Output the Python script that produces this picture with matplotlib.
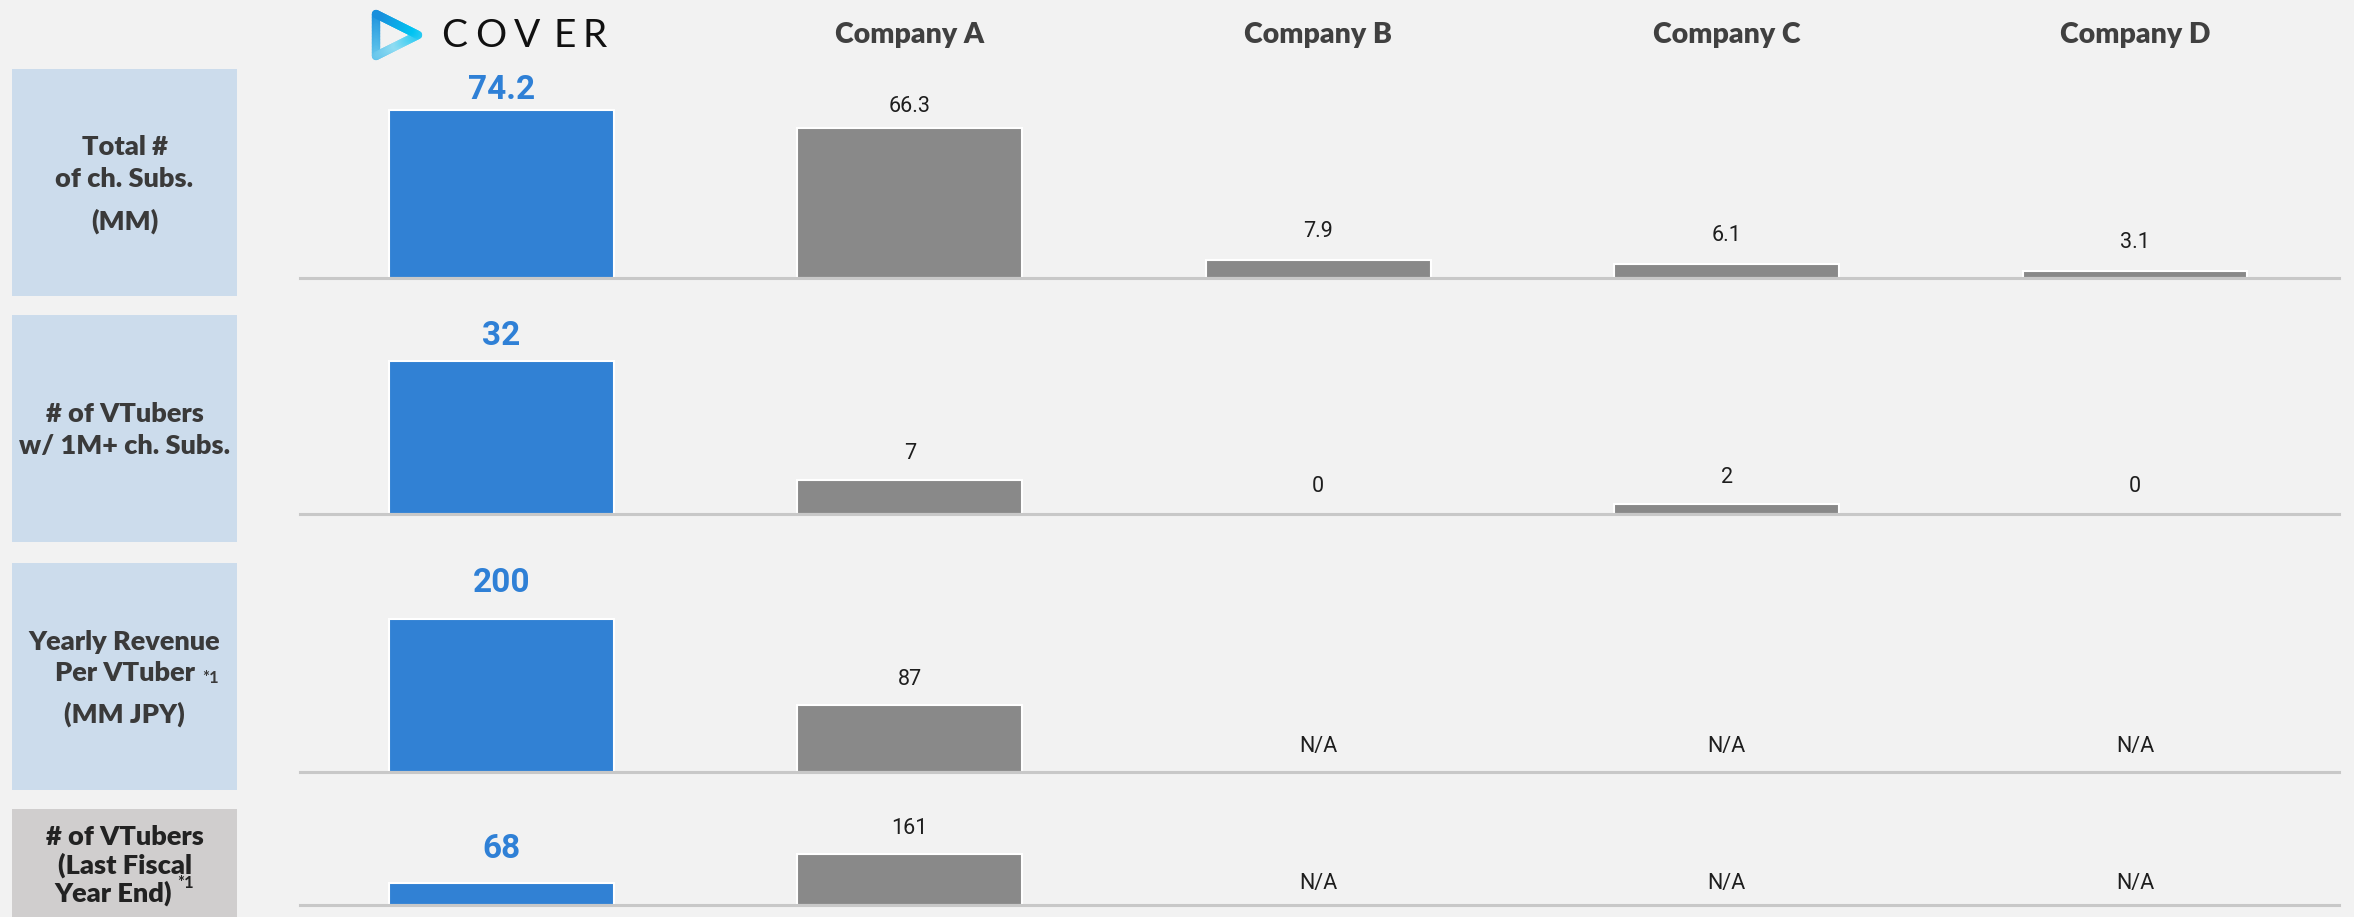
import matplotlib
matplotlib.use("Agg")
import matplotlib.pyplot as plt
import numpy as np
from matplotlib.patches import Rectangle
from matplotlib.collections import LineCollection
from matplotlib.colors import LinearSegmentedColormap

# data
companies = ["COVER", "Company A", "Company B", "Company C", "Company D"]
total_subs = [74.2, 66.3, 7.9, 6.1, 3.1]          # MM
vtubers_1m = [32, 7, 0, 2, 0]
revenue_per_vtuber = [200, 87, None, None, None]   # MM JPY
vtuber_count = [68, 161, None, None, None]

W, H = 2354, 917
BG = "#f2f2f2"
BLUE = "#3181d4"
GRAY = "#898989"

fig = plt.figure(figsize=(W / 100, H / 100), dpi=100, facecolor=BG)

# background axes in pixel coords for boxes, headers, logo
bg = fig.add_axes([0, 0, 1, 1], zorder=0)
bg.set_xlim(0, W)
bg.set_ylim(H, 0)
bg.axis("off")

bold_font = ["Lato", "DejaVu Sans"]
narrow_font = ["DejaVu Sans Condensed", "Liberation Sans Narrow", "Roboto", "DejaVu Sans"]
WT = "heavy"

# left row label boxes
boxes = [
    (69, 296, "#ccdcec", "#3a3a3a",
     [("Total #", 147), ("of ch. Subs.", 179), ("(MM)", 221)]),
    (315, 542, "#ccdcec", "#3a3a3a",
     [("# of VTubers", 414), ("w/ 1M+ ch. Subs.", 446)]),
    (563, 790, "#ccdcec", "#3a3a3a",
     [("Yearly Revenue", 642), ("(MM JPY)", 714)]),
    (809, 930, "#d0cece", "#222222",
     [("# of VTubers", 837), ("(Last Fiscal", 865)]),
]
for top, bot, fc, tc, lines in boxes:
    bg.add_patch(Rectangle((12, top), 225, bot - top, facecolor=fc, edgecolor="none"))
    for txt, y in lines:
        bg.text(124.5, y, txt, ha="center", va="center", fontsize=19.5,
                fontweight=WT, color=tc, family=bold_font)

# lines with footnote marks
bg.text(195, 673, "Per VTuber", ha="right", va="center", fontsize=19.5,
        fontweight=WT, color="#3a3a3a", family=bold_font)
bg.text(202, 678, "*1", ha="left", va="center", fontsize=12,
        fontweight="bold", color="#3a3a3a", family=bold_font)
bg.text(172, 893, "Year End)", ha="right", va="center", fontsize=19.5,
        fontweight=WT, color="#222222", family=bold_font)
bg.text(177, 883, "*1", ha="left", va="center", fontsize=12,
        fontweight="bold", color="#222222", family=bold_font)

# column x centres (pixels)
col_px = [501.4, 909.8, 1318.1, 1726.5, 2134.8]
step = col_px[1] - col_px[0]

# headers
for name, x in zip(companies[1:], col_px[1:]):
    bg.text(x, 35, name, ha="center", va="center", fontsize=20.5,
            fontweight=WT, color="#404040", family=bold_font)

# COVER logo: triangle + letters
tri = np.array([[376, 14], [376, 56], [418, 35], [376, 14]])
pts = []
for a, b in zip(tri[:-1], tri[1:]):
    for t in np.linspace(0, 1, 30):
        pts.append(a + (b - a) * t)
pts = np.array(pts)
segs = np.stack([pts[:-1], pts[1:]], axis=1)
cmap = LinearSegmentedColormap.from_list("logo", ["#1a8fdc", "#4fb8e8", "#8fdcf2", "#00c4f2", "#1a8fdc"])
lc = LineCollection(segs, cmap=cmap, linewidths=6, capstyle="round", joinstyle="round")
lc.set_array(np.linspace(0, 1, len(segs)))
bg.add_collection(lc)
for ch, x in zip("COVER", [454, 491, 527, 565, 595]):
    bg.text(x, 36, ch, ha="center", va="center", fontsize=28,
            color="#111111", family=["Lato", "DejaVu Sans"])

# chart rows
rows = [total_subs, vtubers_1m, revenue_per_vtuber, vtuber_count]
row_top = [69, 315, 563, 809]
row_base = [278, 514, 772, 905]
row_ymax = [92.2, 41.5, 272.6, 303]
blue_gap = [3, 6, 14, 13]
gray_gap = [[8, 13, 13, 13], [12, 12, 12, 12], [11, 11, 11, 11], [11, 8, 8, 8]]

ax_left, ax_right = 300, 2339
x0 = -(col_px[0] - ax_left) / step
x1 = (ax_right - col_px[0]) / step

for r, vals in enumerate(rows):
    ax = fig.add_axes([ax_left / W, 1 - row_base[r] / H,
                       (ax_right - ax_left) / W, (row_base[r] - row_top[r]) / H],
                      zorder=2)
    ax.patch.set_alpha(0)
    ax.set_xlim(x0, x1)
    ax.set_ylim(0, row_ymax[r])
    ax.axis("off")
    xs = np.arange(len(vals))
    heights = [0 if v is None else v for v in vals]
    colors = [BLUE] + [GRAY] * (len(vals) - 1)
    ax.bar(xs, heights, width=0.55, color=colors, edgecolor="white", linewidth=1.5, zorder=2)
    ax.axhline(0, color="#c8c8c8", lw=2.2, zorder=3, clip_on=False)
    for i, v in enumerate(vals):
        txt = "N/A" if v is None else f"{v:g}"
        y = 0 if v is None else v
        if i == 0:
            ax.annotate(txt, (i, y), xytext=(0, blue_gap[r]), textcoords="offset points",
                        ha="center", va="bottom", fontsize=24, fontweight="bold",
                        color="#2f80d6", family=narrow_font, annotation_clip=False)
        else:
            ax.annotate(txt, (i, y), xytext=(0, gray_gap[r][i - 1]), textcoords="offset points",
                        ha="center", va="bottom", fontsize=15.5,
                        color="#1e1e1e", family=narrow_font, annotation_clip=False)

fig.savefig("out.png", dpi=100, facecolor=BG)
